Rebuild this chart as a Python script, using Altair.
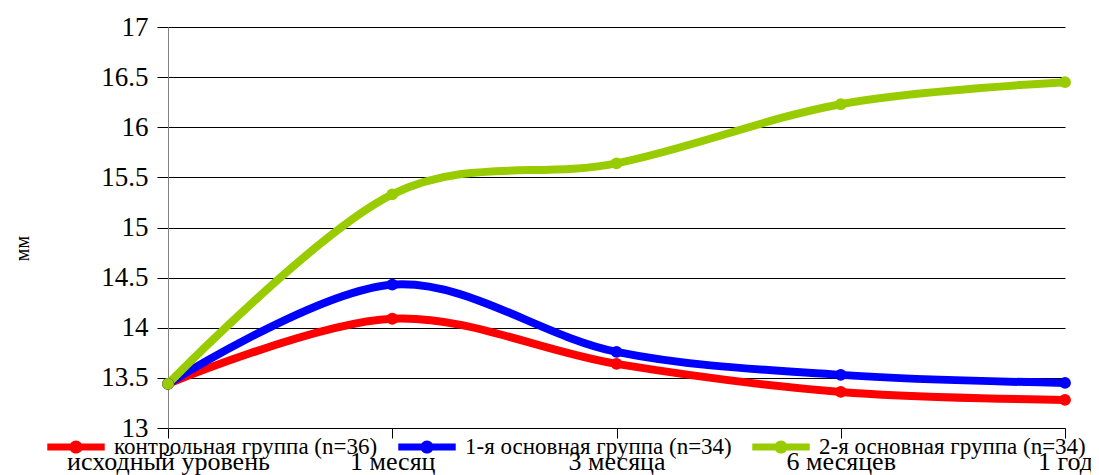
import altair as alt
import pandas as pd

periods = ["исходный уровень", "1 месяц", "3 месяца", "6 месяцев", "1 год"]
series_names = [
    "контрольная группа (n=36)",
    "1-я основная группа (n=34)",
    "2-я основная группа (n=34)",
]
control = [13.44, 14.09, 13.64, 13.36, 13.28]
group1 = [13.44, 14.43, 13.76, 13.53, 13.45]
group2 = [13.44, 15.33, 15.64, 16.23, 16.45]
colors = ["#FF0000", "#0000FF", "#99CC00"]
y_ticks = [13, 13.5, 14, 14.5, 15, 15.5, 16, 16.5, 17]

rows = []
for name, vals in zip(series_names, [control, group1, group2]):
    for i, (p, v) in enumerate(zip(periods, vals)):
        rows.append({"period": p, "value": v, "series": name, "order": i})
df = pd.DataFrame(rows)

serif = "Times New Roman"
legend_symbol = (
    "M-1,-0.125L1,-0.125L1,0.125L-1,0.125Z "
    "M0.23,0A0.23,0.23 0 1 1 -0.23,0A0.23,0.23 0 1 1 0.23,0Z"
)

x = alt.X(
    "period:N",
    sort=periods,
    scale=alt.Scale(type="point", padding=0),
    axis=alt.Axis(
        title=None,
        labelAngle=0,
        labelFont=serif,
        labelFontSize=26,
        labelPadding=10,
        labelLimit=500,
        tickSize=10,
        domainColor="#000000",
        grid=False,
        labelOverlap=False,
    ),
)
y = alt.Y(
    "value:Q",
    scale=alt.Scale(domain=[13, 17], nice=False, zero=False),
    axis=alt.Axis(
        title="мм",
        titleFont=serif,
        titleFontSize=20,
        titleAngle=270,
        titleX=-146,
        titleY=221,
        titleAlign="center",
        titleBaseline="middle",
        values=y_ticks,
        format="~g",
        labelFont=serif,
        labelFontSize=27,
        labelPadding=9,
        labelLimit=500,
        tickSize=11,
        domainColor="#808080",
        gridColor="#000000",
        gridWidth=1,
        gridOpacity=1,
    ),
)
color_scale = alt.Scale(domain=series_names, range=colors)
legend = alt.Legend(
    title=None,
    orient="none",
    legendX=-121,
    legendY=391,
    direction="horizontal",
    symbolType=legend_symbol,
    symbolSize=3300,
    symbolStrokeWidth=0,
    symbolOpacity=1,
    labelFont=serif,
    labelFontSize=23,
    labelLimit=500,
    columnPadding=20,
    labelOffset=9,
)
color = alt.Color("series:N", scale=color_scale, sort=series_names, legend=legend)

lines = alt.Chart(df).mark_line(
    strokeWidth=8, interpolate="cardinal", strokeCap="round"
).encode(
    x=x,
    y=y,
    color=color,
    order="order:Q",
)
points = alt.Chart(df).mark_point(filled=True, size=140, opacity=1).encode(
    x=x,
    y=y,
    color=color,
)

chart = (
    alt.layer(lines, points)
    .properties(
        width=897,
        height=401,
        autosize=alt.AutoSizeParams(type="none"),
        padding={"left": 160, "top": 19, "right": 26, "bottom": 47},
    )
    .configure(background="white", font=serif)
    .configure_view(stroke=None)
    .configure_axis(
        labelColor="#000000",
        titleColor="#000000",
        tickColor="#000000",
        titleFontWeight="normal",
    )
    .configure_legend(labelColor="#000000")
)

chart.save("out.html", embed_options={"renderer": "svg", "actions": False})
